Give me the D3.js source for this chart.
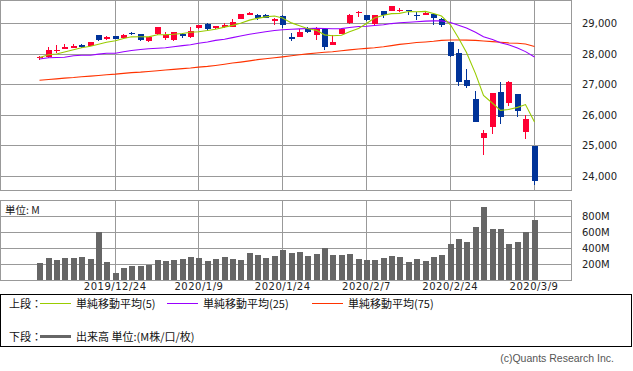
<!DOCTYPE html>
<html>
<head>
<meta charset="utf-8">
<script src="https://cdn.jsdelivr.net/npm/d3@7"></script>
<style>
body { margin: 0; background: #fff; }
svg { display: block; }
</style>
</head>
<body>
<svg id="chart" width="633" height="371"></svg>
<script>
// trading days, 2019/12/11 - 2020/3/9
var dates = ["2019/12/11","2019/12/12","2019/12/13","2019/12/16","2019/12/17","2019/12/18","2019/12/19","2019/12/20","2019/12/23","2019/12/24",
  "2019/12/26","2019/12/27","2019/12/30","2019/12/31","2020/1/2","2020/1/3","2020/1/6","2020/1/7","2020/1/8","2020/1/9",
  "2020/1/10","2020/1/13","2020/1/14","2020/1/15","2020/1/16","2020/1/17","2020/1/21","2020/1/22","2020/1/23","2020/1/24",
  "2020/1/27","2020/1/28","2020/1/29","2020/1/30","2020/1/31","2020/2/3","2020/2/4","2020/2/5","2020/2/6","2020/2/7",
  "2020/2/10","2020/2/11","2020/2/12","2020/2/13","2020/2/14","2020/2/18","2020/2/19","2020/2/20","2020/2/21","2020/2/24",
  "2020/2/25","2020/2/26","2020/2/27","2020/2/28","2020/3/2","2020/3/3","2020/3/4","2020/3/5","2020/3/6","2020/3/9"];

var opens = [27867,27898,28123,28165,28205,28290,28267,28610,28480,28585,
  28530,28690,28654,28415,28638,28530,28440,28640,28560,28830,
  28980,28856,28870,28890,29131,29275,29270,29270,29085,29239,
  28560,28562,28813,28617,28801,28295,28645,29000,29360,29272,
  28967,29400,29400,29420,29440,29265,29280,29305,29141,28398,
  28018,27143,26526,25260,25591,26762,26383,26671,25457,24992];
var highs = [27925,28224,28290,28312,28335,28335,28380,28610,28582,28590,
  28650,28701,28654,28547,28872,28716,28715,28685,28866,28960,
  29009,28915,29009,29127,29300,29374,29310,29300,29160,29260,
  28673,28800,28890,28889,28825,28617,28840,29300,29400,29272,
  29280,29415,29568,29511,29450,29360,29370,29325,29163,28402,
  28149,27500,26790,25506,26706,27084,27102,26700,25994,24992];
var lows = [27801,27859,28028,28160,28200,28185,28250,28430,28445,28470,
  28510,28605,28410,28376,28627,28460,28420,28530,28530,28820,
  28760,28820,28837,28882,29131,29265,29120,29160,28955,28836,
  28430,28562,28690,28453,28126,28290,28645,28980,29216,29060,
  28960,29165,29400,29360,29280,29100,29260,28934,28869,27887,
  26960,26870,25766,24681,25391,25707,26286,25943,25226,23707];
var closes = [27911,28132,28135,28225,28267,28210,28377,28440,28551,28500,
  28621,28640,28440,28540,28868,28620,28710,28570,28745,28957,
  28810,28915,28940,29040,29300,29348,29165,29186,29155,28960,
  28500,28723,28700,28846,28240,28398,28813,29272,29375,29100,
  29277,29276,29551,29423,29398,29255,29348,29183,28954,27939,
  27081,26957,25767,25409,26703,25917,27091,26121,25865,23851];

// volume, millions
var volumes = [212,275,250,275,275,287,262,596,225,87,
  150,175,175,187,250,237,250,262,287,275,
  237,262,287,262,250,337,312,275,300,375,
  337,350,300,325,400,312,312,325,262,250,
  250,275,300,287,225,262,237,287,312,450,
  512,475,662,908,637,637,450,475,600,750];

var ma5 = [27879,27970,27994,28059,28136,28202,28251,28315,28378,28427,
  28504,28557,28559,28556,28627,28629,28641,28665,28707,28725,
  28763,28803,28875,28932,29000,29104,29162,29211,29237,29176,
  29014,28919,28829,28768,28622,28594,28611,28722,28827,28996,
  29171,29265,29317,29326,29385,29376,29390,29324,29238,28950,
  28520,28042,27352,26635,26383,26151,26177,26248,26339,25769];
var ma25 = [27831,27870,27880,27890,27940,27952,27955,27990,28018,28020,
  28070,28110,28140,28165,28182,28200,28230,28270,28300,28345,
  28390,28440,28476,28530,28583,28640,28683,28725,28762,28791,
  28803,28817,28828,28840,28830,28821,28827,28860,28894,28904,
  28929,28952,28991,29018,29036,29052,29070,29081,29079,29026,
  28935,28846,28709,28559,28467,28362,28297,28193,28073,27897];
var ma75 = [27134,27160,27180,27205,27225,27250,27270,27290,27315,27335,
  27360,27385,27400,27420,27445,27470,27490,27515,27535,27565,
  27590,27620,27660,27700,27730,27770,27810,27840,27870,27900,
  27940,27970,28000,28030,28050,28070,28100,28130,28160,28180,
  28200,28230,28270,28310,28340,28370,28390,28410,28440,28453,
  28453,28450,28440,28420,28400,28380,28360,28345,28320,28240];

var dateTicks = ["2019/12/24","2020/1/9","2020/1/24","2020/2/7","2020/2/24","2020/3/9"];
var priceTicks = [24000,25000,26000,27000,28000,29000];
var volumeTicks = [200,400,600,800];

var svg = d3.select("#chart"),
    panelW = 572,
    mainH = 190,
    volTop = 200,
    volBottom = 280;

var gridColor = "#999999",
    upColor = "#ff0033",
    downColor = "#003399";

var x = d3.scalePoint().domain(dates).range([39.3, 533.5]);
var y = d3.scaleLinear().domain([23542, 29763]).range([mainH, 0]);
var yv = d3.scaleLinear().domain([0, 1000]).range([volBottom, volTop]);

var bars = dates.map(function (d, i) {
  return { date: d, o: opens[i], h: highs[i], l: lows[i], c: closes[i], v: volumes[i] };
});

// ---- price panel ----
var priceAxis = svg.append("g")
  .attr("class", "axis price")
  .call(d3.axisRight(y).tickValues(priceTicks).tickSize(panelW).tickPadding(10)
    .tickFormat(d3.format(",")));
var xGridTop = svg.append("g")
  .call(d3.axisBottom(x).tickValues(dateTicks).tickSize(mainH).tickFormat(""));
xGridTop.select(".domain").remove();

svg.append("rect")
  .attr("x", 0.5).attr("y", 0.5)
  .attr("width", panelW - 1).attr("height", mainH)
  .attr("fill", "none").attr("stroke", gridColor);

var candles = svg.append("g").attr("shape-rendering", "crispEdges");
candles.selectAll("line.wick")
  .data(bars).enter().append("line")
  .attr("class", "wick")
  .attr("x1", function (d) { return Math.round(x(d.date)) + 0.5; })
  .attr("x2", function (d) { return Math.round(x(d.date)) + 0.5; })
  .attr("y1", function (d) { return y(d.h); })
  .attr("y2", function (d) { return y(d.l); })
  .attr("stroke", function (d) { return d.c >= d.o ? upColor : downColor; });
candles.selectAll("rect.body")
  .data(bars).enter().append("rect")
  .attr("class", "body")
  .attr("x", function (d) { return Math.round(x(d.date)) - 2.5; })
  .attr("y", function (d) { return y(Math.max(d.o, d.c)); })
  .attr("width", 6)
  .attr("height", function (d) { return Math.max(1, Math.abs(y(d.o) - y(d.c))); })
  .attr("fill", function (d) { return d.c >= d.o ? upColor : downColor; });

function maLine(vals, color) {
  var line = d3.line()
    .x(function (d, i) { return Math.round(x(dates[i])) + 0.5; })
    .y(function (d) { return y(d); });
  svg.append("path")
    .attr("d", line(vals))
    .attr("fill", "none")
    .attr("stroke", color)
    .attr("stroke-width", 1.1);
}
maLine(ma75, "#ff3300");
maLine(ma25, "#9900ff");
maLine(ma5, "#99cc00");

// ---- volume panel ----
var volAxis = svg.append("g")
  .attr("class", "axis vol")
  .call(d3.axisRight(yv).tickValues(volumeTicks).tickSize(panelW).tickPadding(10)
    .tickFormat(function (d) { return d + "M"; }));
var xAxis = svg.append("g")
  .attr("class", "axis date")
  .attr("transform", "translate(0," + volBottom + ")")
  .call(d3.axisBottom(x).tickValues(dateTicks).tickSize(-(volBottom - volTop)).tickPadding(3));
xAxis.select(".domain").remove();

svg.append("rect")
  .attr("x", 0.5).attr("y", volTop + 0.5)
  .attr("width", panelW - 1).attr("height", volBottom - volTop)
  .attr("fill", "none").attr("stroke", gridColor);

svg.append("g").attr("shape-rendering", "crispEdges")
  .selectAll("rect")
  .data(bars).enter().append("rect")
  .attr("x", function (d) { return Math.round(x(d.date)) - 2.5; })
  .attr("y", function (d) { return yv(d.v); })
  .attr("width", 6)
  .attr("height", function (d) { return yv(0) - yv(d.v); })
  .attr("fill", "#666666");

svg.append("text")
  .attr("x", 5).attr("y", 214)
  .attr("font-family", "Noto Sans CJK JP").attr("font-size", 10.5)
  .attr("fill", "#222")
  .text("単位: M");

svg.selectAll(".axis .domain").remove();
svg.selectAll(".axis line, .tick line")
  .attr("stroke", gridColor)
  .attr("shape-rendering", "crispEdges");
svg.selectAll(".axis text")
  .attr("font-family", "DejaVu Sans")
  .attr("font-size", 10)
  .attr("fill", "#222");
svg.selectAll(".axis.date text").attr("letter-spacing", 0.5);

// ---- legend ----
var legend = svg.append("g").attr("font-family", "Noto Sans CJK JP").attr("font-size", 11).attr("fill", "#111");
legend.append("rect")
  .attr("x", 0.5).attr("y", 294.5).attr("width", 631).attr("height", 52)
  .attr("fill", "none").attr("stroke", "#000");

var legendItems = [
  { label: "単純移動平均(5)", color: "#99cc00", x: 40 },
  { label: "単純移動平均(25)", color: "#9900ff", x: 167 },
  { label: "単純移動平均(75)", color: "#ff3300", x: 312 }
];
legend.append("text").attr("x", 9).attr("y", 307.5).text("上段：");
legendItems.forEach(function (it) {
  legend.append("line")
    .attr("x1", it.x).attr("x2", it.x + 31)
    .attr("y1", 303.5).attr("y2", 303.5)
    .attr("stroke", it.color);
  legend.append("text").attr("x", it.x + 36).attr("y", 307.5).text(it.label);
});
legend.append("text").attr("x", 9).attr("y", 341).text("下段：");
legend.append("line")
  .attr("x1", 40).attr("x2", 71)
  .attr("y1", 336.5).attr("y2", 336.5)
  .attr("stroke", "#666").attr("stroke-width", 3);
legend.append("text").attr("x", 76).attr("y", 341).text("出来高 単位:(M株/口/枚)");

svg.append("text")
  .attr("x", 614).attr("y", 362)
  .attr("text-anchor", "end")
  .attr("font-family", "Liberation Sans").attr("font-size", 10.5)
  .attr("fill", "#555")
  .text("(c)Quants Research Inc.");
</script>
</body>
</html>
